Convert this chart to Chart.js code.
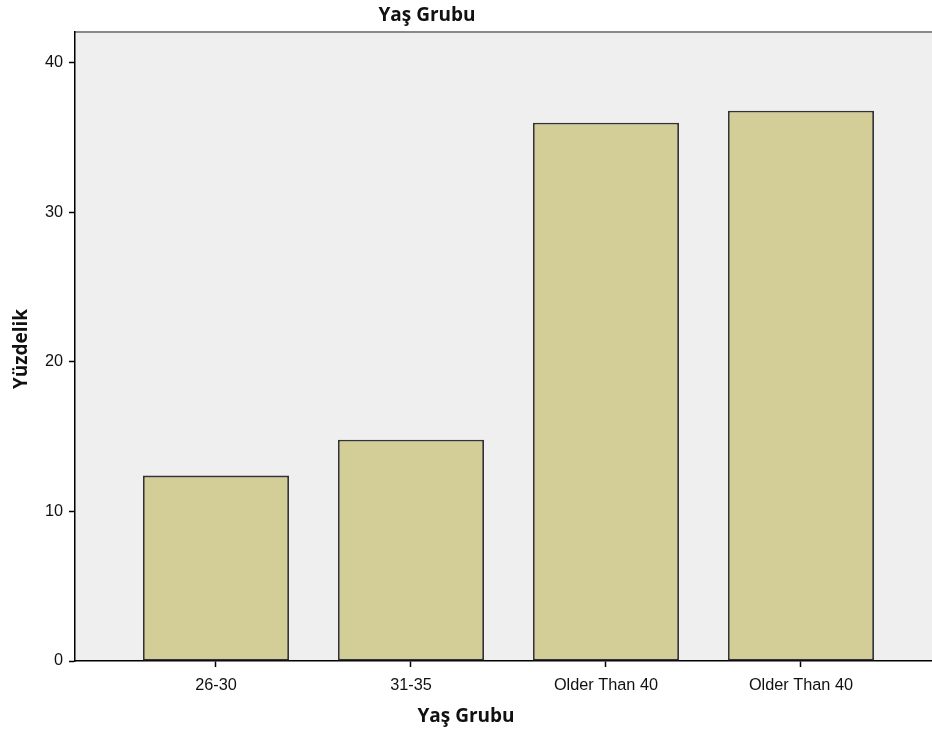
<!DOCTYPE html>
<html>
<head>
<meta charset="utf-8">
<script src="https://cdn.jsdelivr.net/npm/chart.js@4"></script>
<style>
html,body{margin:0;padding:0;background:#fff;}
canvas{display:block;}
</style>
</head>
<body>
<canvas id="c" width="932" height="733"></canvas>
<script>
const categories = ['26-30', '31-35', 'Older Than 40', 'Older Than 40'];
const percentValues = [12.4, 14.8, 36.0, 36.8];
const yTickValues = [0, 10, 20, 30, 40];
const chartTitle = 'Yaş Grubu';
const xAxisTitle = 'Yaş Grubu';
const yAxisTitle = 'Yüzdelik';

const titleFontCss = 'bold 19px "Open Sans", "Liberation Sans", sans-serif';

const bgPlugin = {
  id: 'plotBg',
  beforeDraw(chart) {
    const {ctx, chartArea: a} = chart;
    ctx.save();
    ctx.fillStyle = '#efefef';
    ctx.fillRect(a.left, a.top, a.right - a.left, a.bottom - a.top);
    ctx.strokeStyle = '#8a8a8a';
    ctx.lineWidth = 2;
    ctx.beginPath();
    ctx.moveTo(a.left, a.top);
    ctx.lineTo(a.right, a.top);
    ctx.stroke();
    ctx.restore();
  },
  afterDraw(chart) {
    const ctx = chart.ctx;
    ctx.save();
    ctx.font = titleFontCss;
    ctx.fillStyle = '#111';
    ctx.textAlign = 'center';
    ctx.textBaseline = 'middle';
    ctx.fillText(chartTitle, 427, 16);
    ctx.fillText(xAxisTitle, 466, 717);
    ctx.restore();
  }
};

const titleFont = {family: '"Open Sans", "Liberation Sans", sans-serif', size: 19, weight: 'bold'};
const tickFont = {family: '"Liberation Sans", Arial, sans-serif', size: 16.3};

new Chart(document.getElementById('c'), {
  type: 'bar',
  data: {
    datasets: [{
      data: percentValues.map((v, i) => ({x: i, y: v})),
      backgroundColor: '#d3ce97',
      borderColor: '#333333',
      borderWidth: 1.8,
      borderSkipped: false,
      barPercentage: 0.749,
      categoryPercentage: 1
    }]
  },
  options: {
    responsive: false,
    animation: false,
    layout: {padding: {top: 32, left: 0, right: 0, bottom: 0}},
    plugins: {
      legend: {display: false},
      tooltip: {enabled: false},
      title: {display: false}
    },
    scales: {
      x: {
        type: 'linear',
        min: -0.723,
        max: 3.672,
        offset: false,
        afterBuildTicks(scale) { scale.ticks = categories.map((c, i) => ({value: i})); },
        afterFit(scale) { scale.height = 72; },
        grid: {display: true, offset: false, drawOnChartArea: false, drawTicks: true, tickLength: 6, tickColor: '#000', tickWidth: 1.5},
        border: {display: true, color: '#000', width: 1.5},
        ticks: {
          color: '#111',
          font: tickFont,
          padding: 9,
          maxRotation: 0,
          autoSkip: false,
          callback: (v) => categories[v]
        },
        title: {display: false}
      },
      y: {
        min: 0,
        max: 42.07,
        afterBuildTicks(scale) { scale.ticks = yTickValues.map(v => ({value: v})); },
        afterFit(scale) { scale.width = 75; },
        grid: {display: true, drawOnChartArea: false, drawTicks: true, tickLength: 6, tickColor: '#000', tickWidth: 1.5},
        border: {display: true, color: '#000', width: 1.5},
        ticks: {color: '#111', font: tickFont, padding: 6},
        title: {display: true, text: yAxisTitle + ' ', color: '#111', font: titleFont, padding: {top: 10.6, bottom: 0}}
      }
    }
  },
  plugins: [bgPlugin]
});
</script>
</body>
</html>
